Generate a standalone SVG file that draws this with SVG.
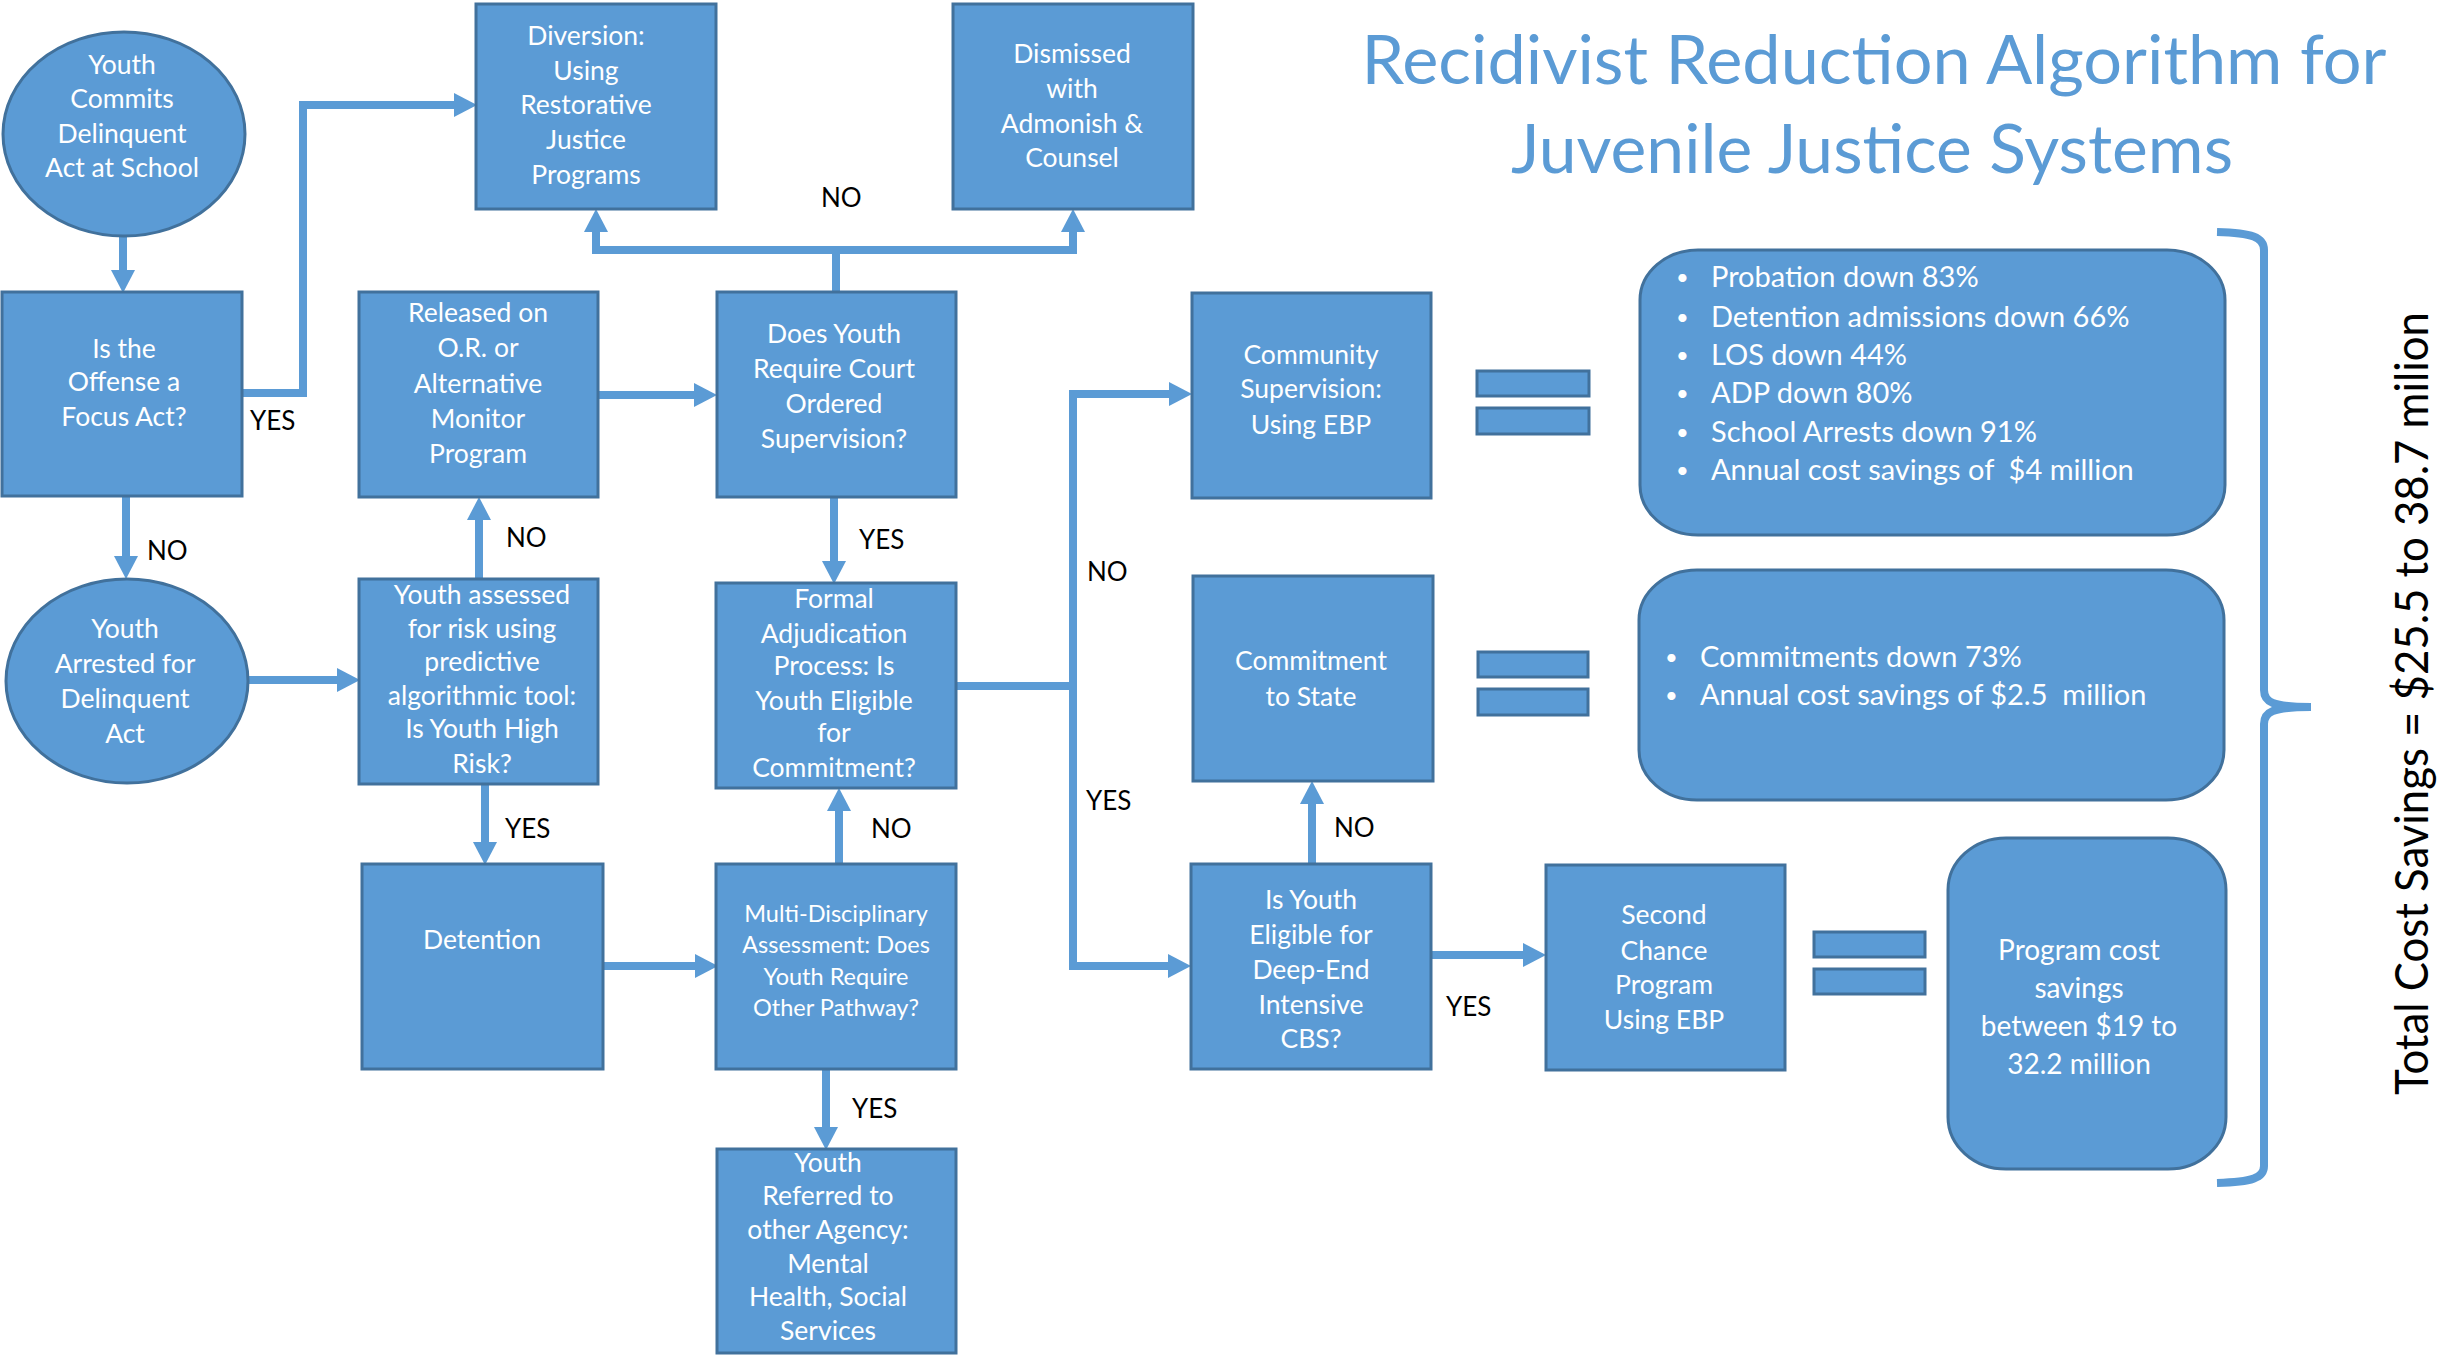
<svg xmlns="http://www.w3.org/2000/svg" width="2440" height="1355" viewBox="0 0 2440 1355">
<style>
.box{fill:#5B9BD5;stroke:#41719C;stroke-width:3}
.t{font-family:Lato,"Liberation Sans",sans-serif;font-size:26.5px;fill:#fff;text-anchor:middle}
.ts{font-size:23.5px}
.b{font-family:Lato,"Liberation Sans",sans-serif;font-size:29px;fill:#fff}
.bd{font-family:Lato,"Liberation Sans",sans-serif;font-size:22px;fill:#fff}
.lbl{font-family:Lato,"Liberation Sans",sans-serif;font-size:26px;fill:#000}
.c{fill:none;stroke:#5B9BD5;stroke-width:8;stroke-linejoin:miter;marker-end:url(#ah)}
.cn{fill:none;stroke:#5B9BD5;stroke-width:8}
.title{font-family:Lato,"Liberation Sans",sans-serif;font-size:68px;fill:#5B9BD5;text-anchor:middle}
.total{font-family:Lato,"Liberation Sans",sans-serif;font-size:46px;fill:#000}
</style>
<defs>
<marker id="ah" markerUnits="userSpaceOnUse" markerWidth="24" markerHeight="24" viewBox="0 0 24 24" refX="0" refY="12" orient="auto">
<path d="M0,0 L23,12 L0,24 z" fill="#5B9BD5"/>
</marker>
</defs>

<g id="title">
<text class="title" x="1874" y="84" textLength="1025" lengthAdjust="spacingAndGlyphs">Recidivist Reduction Algorithm for</text>
<text class="title" x="1872" y="173" textLength="722" lengthAdjust="spacingAndGlyphs">Juvenile Justice Systems</text>
</g>

<g id="connectors">
<path class="c" d="M123,236 L123,270"/>
<path class="c" d="M242,393 L303,393 L303,105 L454,105"/>
<path class="c" d="M126,496 L126,556"/>
<path class="c" d="M249,680 L337,680"/>
<path class="c" d="M479,579 L479,520"/>
<path class="c" d="M485,784 L485,842"/>
<path class="c" d="M598,395 L694,395"/>
<path class="c" d="M836,292 L836,250 L596,250 L596,232"/>
<path class="c" d="M836,250 L1073,250 L1073,232"/>
<path class="c" d="M834,497 L834,561"/>
<path class="c" d="M603,966 L695,966"/>
<path class="c" d="M839,864 L839,811"/>
<path class="c" d="M826,1069 L826,1127"/>
<path class="c" d="M956,686 L1073,686 L1073,394 L1169,394"/>
<path class="c" d="M1073,686 L1073,966 L1168,966"/>
<path class="c" d="M1312,864 L1312,804"/>
<path class="c" d="M1431,955 L1523,955"/>
</g>

<g id="labels">
<text class="lbl" x="250" y="430">YES</text>
<text class="lbl" x="147" y="560">NO</text>
<text class="lbl" x="506" y="547">NO</text>
<text class="lbl" x="505" y="838">YES</text>
<text class="lbl" x="821" y="207">NO</text>
<text class="lbl" x="859" y="549">YES</text>
<text class="lbl" x="1087" y="581">NO</text>
<text class="lbl" x="1086" y="810">YES</text>
<text class="lbl" x="871" y="838">NO</text>
<text class="lbl" x="852" y="1118">YES</text>
<text class="lbl" x="1334" y="837">NO</text>
<text class="lbl" x="1446" y="1016">YES</text>
</g>

<g id="n-start">
<ellipse class="box" cx="124" cy="134" rx="121" ry="102"/>
<text class="t" x="122" y="74">Youth</text>
<text class="t" x="122" y="108">Commits</text>
<text class="t" x="122" y="143">Delinquent</text>
<text class="t" x="122" y="177">Act at School</text>
</g>

<g id="n-focus">
<rect class="box" x="2" y="292" width="240" height="204"/>
<text class="t" x="124" y="358">Is the</text>
<text class="t" x="124" y="391">Offense a</text>
<text class="t" x="124" y="426">Focus Act?</text>
</g>

<g id="n-diversion">
<rect class="box" x="476" y="4" width="240" height="205"/>
<text class="t" x="586" y="45">Diversion:</text>
<text class="t" x="586" y="80">Using</text>
<text class="t" x="586" y="114">Restorative</text>
<text class="t" x="586" y="149">Justice</text>
<text class="t" x="586" y="184">Programs</text>
</g>

<g id="n-dismissed">
<rect class="box" x="953" y="4" width="240" height="205"/>
<text class="t" x="1072" y="63">Dismissed</text>
<text class="t" x="1072" y="98">with</text>
<text class="t" x="1072" y="133">Admonish &amp;</text>
<text class="t" x="1072" y="167">Counsel</text>
</g>

<g id="n-released">
<rect class="box" x="359" y="292" width="239" height="205"/>
<text class="t" x="478" y="322">Released on</text>
<text class="t" x="478" y="357">O.R. or</text>
<text class="t" x="478" y="393">Alternative</text>
<text class="t" x="478" y="428">Monitor</text>
<text class="t" x="478" y="463">Program</text>
</g>

<g id="n-court">
<rect class="box" x="717" y="292" width="239" height="205"/>
<text class="t" x="834" y="343">Does Youth</text>
<text class="t" x="834" y="378">Require Court</text>
<text class="t" x="834" y="413">Ordered</text>
<text class="t" x="834" y="448">Supervision?</text>
</g>

<g id="n-community">
<rect class="box" x="1192" y="293" width="239" height="205"/>
<text class="t" x="1311" y="364">Community</text>
<text class="t" x="1311" y="398">Supervision:</text>
<text class="t" x="1311" y="434">Using EBP</text>
</g>

<g id="n-arrested">
<ellipse class="box" cx="127" cy="681" rx="121" ry="102"/>
<text class="t" x="125" y="638">Youth</text>
<text class="t" x="125" y="673">Arrested for</text>
<text class="t" x="125" y="708">Delinquent</text>
<text class="t" x="125" y="743">Act</text>
</g>

<g id="n-assessed">
<rect class="box" x="359" y="579" width="239" height="205"/>
<text class="t" x="482" y="604">Youth assessed</text>
<text class="t" x="482" y="638">for risk using</text>
<text class="t" x="482" y="671">predictive</text>
<text class="t" x="482" y="705">algorithmic tool:</text>
<text class="t" x="482" y="738">Is Youth High</text>
<text class="t" x="482" y="773">Risk?</text>
</g>

<g id="n-formal">
<rect class="box" x="716" y="583" width="240" height="205"/>
<text class="t" x="834" y="608">Formal</text>
<text class="t" x="834" y="643">Adjudication</text>
<text class="t" x="834" y="675">Process: Is</text>
<text class="t" x="834" y="710">Youth Eligible</text>
<text class="t" x="834" y="742">for</text>
<text class="t" x="834" y="777">Commitment?</text>
</g>

<g id="n-commitment">
<rect class="box" x="1193" y="576" width="240" height="205"/>
<text class="t" x="1311" y="670">Commitment</text>
<text class="t" x="1311" y="706">to State</text>
</g>

<g id="n-detention">
<rect class="box" x="362" y="864" width="241" height="205"/>
<text class="t" x="482" y="949">Detention</text>
</g>

<g id="n-multi">
<rect class="box" x="716" y="864" width="240" height="205"/>
<text class="t ts" x="836" y="922">Multi-Disciplinary</text>
<text class="t ts" x="836" y="953">Assessment: Does</text>
<text class="t ts" x="836" y="985">Youth Require</text>
<text class="t ts" x="836" y="1016">Other Pathway?</text>
</g>

<g id="n-deepend">
<rect class="box" x="1191" y="864" width="240" height="205"/>
<text class="t" x="1311" y="909">Is Youth</text>
<text class="t" x="1311" y="944">Eligible for</text>
<text class="t" x="1311" y="979">Deep-End</text>
<text class="t" x="1311" y="1014">Intensive</text>
<text class="t" x="1311" y="1048">CBS?</text>
</g>

<g id="n-referred">
<rect class="box" x="717" y="1149" width="239" height="204"/>
<text class="t" x="828" y="1172">Youth</text>
<text class="t" x="828" y="1205">Referred to</text>
<text class="t" x="828" y="1239">other Agency:</text>
<text class="t" x="828" y="1273">Mental</text>
<text class="t" x="828" y="1306">Health, Social</text>
<text class="t" x="828" y="1340">Services</text>
</g>

<g id="n-secondchance">
<rect class="box" x="1546" y="865" width="239" height="205"/>
<text class="t" x="1664" y="924">Second</text>
<text class="t" x="1664" y="960">Chance</text>
<text class="t" x="1664" y="994">Program</text>
<text class="t" x="1664" y="1029">Using EBP</text>
</g>

<g id="eq1">
<rect class="box" x="1477" y="371" width="112" height="25"/>
<rect class="box" x="1477" y="408" width="112" height="26"/>
</g>
<g id="eq2">
<rect class="box" x="1478" y="652" width="110" height="25"/>
<rect class="box" x="1478" y="689" width="110" height="26"/>
</g>
<g id="eq3">
<rect class="box" x="1814" y="932" width="111" height="25"/>
<rect class="box" x="1814" y="969" width="111" height="25"/>
</g>

<g id="n-results1">
<rect class="box" x="1640" y="250" width="585" height="285" rx="58" ry="50"/>
<text class="bd" x="1676" y="285">•</text><text class="b" x="1711" y="287">Probation down 83%</text>
<text class="bd" x="1676" y="325">•</text><text class="b" x="1711" y="327">Detention admissions down 66%</text>
<text class="bd" x="1676" y="363">•</text><text class="b" x="1711" y="365">LOS down 44%</text>
<text class="bd" x="1676" y="401">•</text><text class="b" x="1711" y="403">ADP down 80%</text>
<text class="bd" x="1676" y="440">•</text><text class="b" x="1711" y="442">School Arrests down 91%</text>
<text class="bd" x="1676" y="478">•</text><text class="b" x="1711" y="480" xml:space="preserve">Annual cost savings of  $4 million</text>
</g>

<g id="n-results2">
<rect class="box" x="1639" y="570" width="585" height="230" rx="58" ry="50"/>
<text class="bd" x="1665" y="665">•</text><text class="b" x="1700" y="667">Commitments down 73%</text>
<text class="bd" x="1665" y="703">•</text><text class="b" x="1700" y="705" xml:space="preserve">Annual cost savings of $2.5  million</text>
</g>

<g id="n-results3">
<rect class="box" x="1948" y="838" width="278" height="331" rx="58" ry="52"/>
<text class="t" x="2079" y="960" style="font-size:28px">Program cost</text>
<text class="t" x="2079" y="998" style="font-size:28px">savings</text>
<text class="t" x="2079" y="1036" style="font-size:28px">between $19 to</text>
<text class="t" x="2079" y="1074" style="font-size:28px">32.2 million</text>
</g>

<g id="brace">
<path class="cn" d="M2217,232 C2252,233 2264,237 2264,250 L2264,690 C2264,702 2272,707 2311,707 C2272,707 2264,712 2264,724 L2264,1166 C2264,1178 2252,1182 2217,1183"/>
</g>

<g id="total">
<text class="total" transform="translate(2428,1095) rotate(-90)" textLength="783" lengthAdjust="spacingAndGlyphs">Total Cost Savings = $25.5 to 38.7 milion</text>
</g>
</svg>
